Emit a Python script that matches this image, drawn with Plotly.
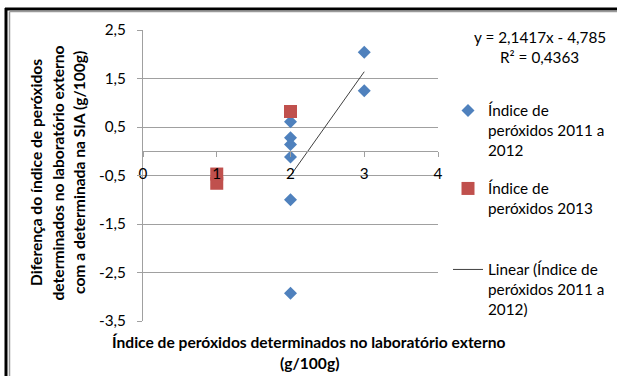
import plotly.graph_objects as go

# Peroxide index: external lab value (x) vs difference to SIA value (y)
x_2011_2012 = [2, 2, 2, 2, 2, 2, 3, 3]
y_2011_2012 = [0.61, 0.28, 0.14, -0.12, -1.0, -2.93, 2.04, 1.25]

x_2013 = [1, 1, 2]
y_2013 = [-0.47, -0.66, 0.82]

# Linear trendline of the 2011-2012 series
trend_slope = 2.1417
trend_intercept = -4.785
trend_r2 = 0.4363

y_ticks = [-3.5, -2.5, -1.5, -0.5, 0.5, 1.5, 2.5]
x_ticks = [0, 1, 2, 3, 4]

name_2011 = "Índice de<br>peróxidos 2011 a<br>2012"
name_2013 = "Índice de<br>peróxidos 2013"
name_trend = "Linear (Índice de<br>peróxidos 2011 a<br>2012)"
x_title = ["Índice de peróxidos determinados no laboratório externo", "(g/100g)"]
y_title = ["Diferença do índice de peróxidos",
           "determinados no laboratório externo",
           "com a determinada na SIA (g/100g)"]

FONT = "Lato"
FS = 15.3
FS_TITLE = 15.6
W, H = 617, 376
L, R, T, B = 143, 438, 30, 321
GRAY = "#A0A0A0"


def px(xp):
    return (xp - L) / (R - L)


def py(yp):
    return (B - yp) / (B - T)


def comma(v, fmt):
    return format(v, fmt).replace(".", ",")


trend_x = [min(x_2011_2012), max(x_2011_2012)]
trend_y = [trend_slope * v + trend_intercept for v in trend_x]

fig = go.Figure()
fig.add_trace(go.Scatter(
    x=x_2011_2012, y=y_2011_2012, mode="markers", name=name_2011,
    marker=dict(symbol="diamond", size=10, color="#4F81BD"),
    legend="legend",
))
fig.add_trace(go.Scatter(
    x=x_2013, y=y_2013, mode="markers", name=name_2013,
    marker=dict(symbol="square", size=13, color="#C0504D"),
    legend="legend2",
))
fig.add_trace(go.Scatter(
    x=trend_x, y=trend_y, mode="lines", name=name_trend,
    line=dict(color="#404040", width=1),
    legend="legend3",
))

leg_common = dict(font=dict(family=FONT, size=FS, color="#000"),
                  bgcolor="rgba(0,0,0,0)", valign="top",
                  xanchor="left", yanchor="top")


def label(x, y, text, size, angle=0):
    return dict(x=px(x), y=py(y), xref="paper", yref="paper", text=text,
                showarrow=False, textangle=angle, xanchor="center", yanchor="middle",
                font=dict(family=FONT, size=size, color="#000"))


annotations = []
for i, line in enumerate(x_title):
    annotations.append(label(309, 342 + 21 * i, f"<b>{line}</b>", FS_TITLE))
for i, line in enumerate(y_title):
    annotations.append(label(36 + 21.5 * i, 173, f"<b>{line}</b>", FS_TITLE, -90))

sign = "-" if trend_intercept < 0 else "+"
eq = f"y = {comma(trend_slope, '.4f')}x {sign} {comma(abs(trend_intercept), '.3f')}"
annotations.append(label(540, 37, eq, FS))
annotations.append(label(539, 57, f"R² = {comma(trend_r2, '.4f')}", FS))

# chart area frame
shapes = [
    dict(type="line", xref="paper", yref="paper", x0=px(5), x1=px(620), y0=py(9), y1=py(9),
         line=dict(color="#000", width=3)),
    dict(type="line", xref="paper", yref="paper", x0=px(6), x1=px(6), y0=py(8), y1=py(380),
         line=dict(color="#000", width=3)),
    dict(type="line", xref="paper", yref="paper", x0=px(9.5), x1=px(620), y0=py(11.5), y1=py(11.5),
         line=dict(color="#9A9A9A", width=1.5)),
    dict(type="line", xref="paper", yref="paper", x0=px(9.5), x1=px(9.5), y0=py(11.5), y1=py(380),
         line=dict(color="#9A9A9A", width=1.5)),
]

fig.update_layout(
    width=W, height=H,
    margin=dict(l=L, r=W - R, t=T, b=H - B, autoexpand=False),
    paper_bgcolor="white", plot_bgcolor="white",
    font=dict(family=FONT, size=FS, color="#000"),
    showlegend=True,
    legend=dict(x=px(448), y=py(94), **leg_common),
    legend2=dict(x=px(448), y=py(172), **leg_common),
    legend3=dict(x=px(448), y=py(253), **leg_common),
    xaxis=dict(range=[0, 4], tickvals=x_ticks, ticktext=[str(v) for v in x_ticks],
               showgrid=False, zeroline=False, showline=True, linecolor=GRAY, linewidth=1,
               ticks="outside", ticklen=5, tickcolor=GRAY, automargin=False,
               anchor="free", position=(0 - y_ticks[0]) / (y_ticks[-1] - y_ticks[0]),
               ticklabelstandoff=3, tickfont=dict(family=FONT, size=FS, color="#000")),
    yaxis=dict(range=[y_ticks[0], y_ticks[-1]], tickvals=y_ticks,
               ticktext=[comma(v, ".1f") for v in y_ticks],
               showgrid=True, gridcolor=GRAY, gridwidth=1, zeroline=False,
               showline=True, linecolor=GRAY, linewidth=1, automargin=False,
               ticks="outside", ticklen=5, tickcolor=GRAY,
               ticklabelstandoff=8, tickfont=dict(family=FONT, size=FS, color="#000")),
    annotations=annotations,
    shapes=shapes,
)

fig.write_html("out.html")
